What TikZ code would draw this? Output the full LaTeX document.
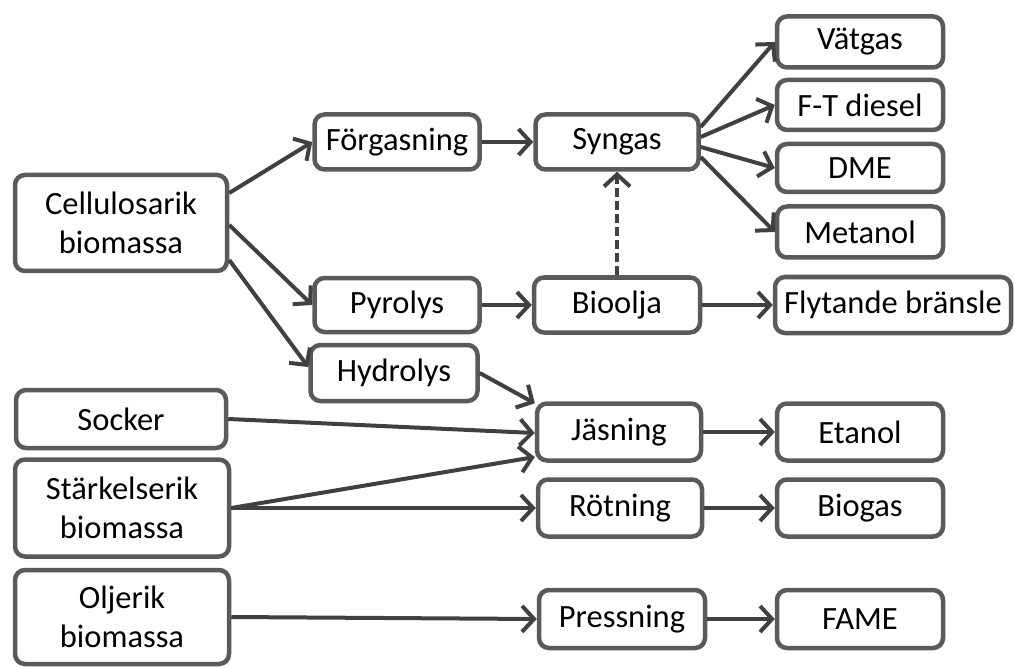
\documentclass[tikz,border=0pt]{standalone}
\usepackage{fontspec}
\setmainfont{Carlito}
\usetikzlibrary{arrows.meta,calc}
\definecolor{boxc}{HTML}{5A5A5A}
\definecolor{arrc}{HTML}{404040}
\tikzset{
  box/.style={draw=boxc, line width=4.5pt, rounded corners=10pt, fill=white,
    align=center, inner sep=0pt, text=black,
    font=\fontsize{32.5}{39}\selectfont},
  arr/.style={draw=arrc, line width=4pt,
    -{Straight Barb[length=12pt,width=26pt]}},
  dasharr/.style={arr, dash pattern=on 9pt off 4pt}
}
\begin{document}
\begin{tikzpicture}[x=1pt,y=-1pt]
\useasboundingbox (0,0) rectangle (1014,668);
\node[box, minimum width=212pt, minimum height=96pt] (cell) at (121,223) {Cellulosarik\\biomassa};
\node[box, minimum width=165pt, minimum height=55pt] (forg) at (397,142) {Förgasning};
\node[box, minimum width=163pt, minimum height=55pt] (syn) at (617,142) {Syngas};
\node[box, minimum width=166pt, minimum height=51pt] (vat) at (860,42) {Vätgas};
\node[box, minimum width=166pt, minimum height=50pt] (ft) at (860,105) {F-T diesel};
\node[box, minimum width=166pt, minimum height=48pt] (dme) at (860,168) {DME};
\node[box, minimum width=166pt, minimum height=51pt] (met) at (860,232) {Metanol};
\node[box, minimum width=165pt, minimum height=54pt] (pyr) at (397,305) {Pyrolys};
\node[box, minimum width=166pt, minimum height=55pt] (bio) at (617,305) {Bioolja};
\node[box, minimum width=236pt, minimum height=56pt] (fly) at (893,305) {Flytande bränsle};
\node[box, minimum width=167pt, minimum height=56pt] (hyd) at (394,373) {Hydrolys};
\node[box, minimum width=210pt, minimum height=58pt] (soc) at (121,419) {Socker};
\node[box, minimum width=214pt, minimum height=97pt] (sta) at (122,508) {Stärkelserik\\biomassa};
\node[box, minimum width=214pt, minimum height=94pt] (olj) at (122,617) {Oljerik\\biomassa};
\node[box, minimum width=164pt, minimum height=57pt] (jas) at (619,432) {Jäsning};
\node[box, minimum width=166pt, minimum height=57pt] (eta) at (860,432) {Etanol};
\node[box, minimum width=164pt, minimum height=57pt] (rot) at (620,508) {Rötning};
\node[box, minimum width=166pt, minimum height=57pt] (bgas) at (860,508) {Biogas};
\node[box, minimum width=166pt, minimum height=58pt] (pre) at (622,619) {Pressning};
\node[box, minimum width=166pt, minimum height=58pt] (fame) at (860,619) {FAME};

\draw[arr] ($(cell.east)+(0,-30)$) -- (forg.west);
\draw[arr] ($(cell.east)+(0,2)$) -- (pyr.west);
\draw[arr] ($(cell.east)+(0,37)$) -- ($(hyd.west)+(0,-6)$);
\draw[arr] (forg.east) -- (syn.west);
\draw[arr] ($(syn.east)+(0,-15)$) -- (vat.west);
\draw[arr] ($(syn.east)+(0,-5)$) -- (ft.west);
\draw[arr] ($(syn.east)+(0,5)$) -- (dme.west);
\draw[arr] ($(syn.east)+(0,15)$) -- (met.west);
\draw[dasharr] (bio.north) -- (syn.south);
\draw[arr] (pyr.east) -- (bio.west);
\draw[arr] (bio.east) -- (fly.west);
\draw[arr] (hyd.east) -- ($(jas.north west)+(0,2)$);
\draw[arr] (soc.east) -- ($(jas.west)+(0,1)$);
\draw[arr] (sta.east) -- ($(jas.west)+(0,25)$);
\draw[arr] (sta.east) -- (rot.west);
\draw[arr] (olj.east) -- (pre.west);
\draw[arr] (jas.east) -- (eta.west);
\draw[arr] (rot.east) -- (bgas.west);
\draw[arr] (pre.east) -- (fame.west);
\end{tikzpicture}
\end{document}
